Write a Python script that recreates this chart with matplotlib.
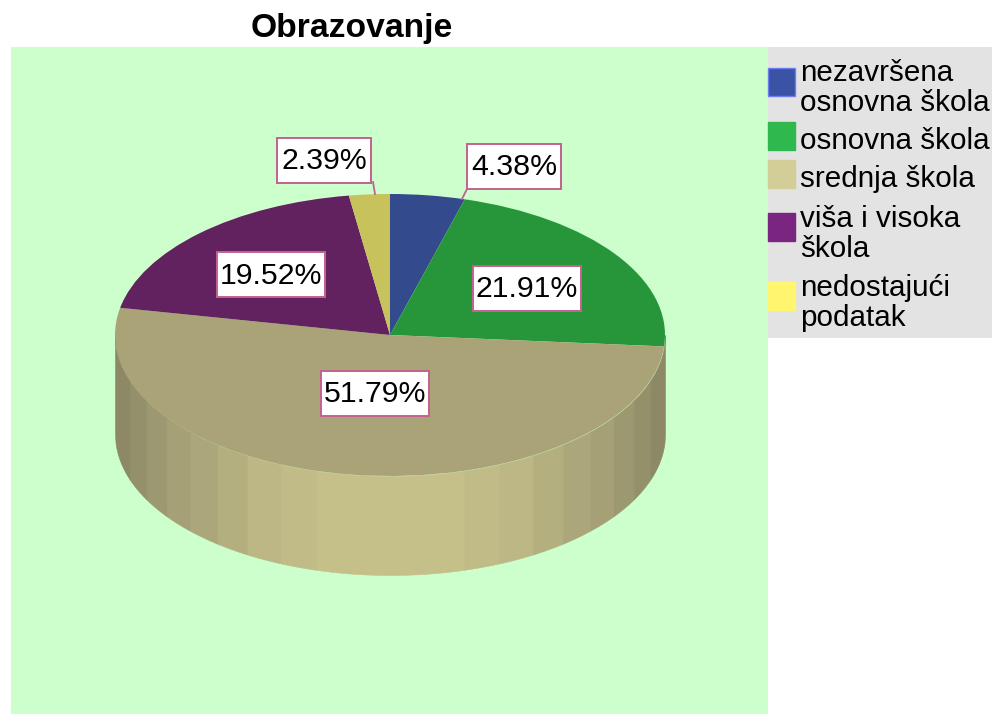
import numpy as np
import matplotlib
matplotlib.use("Agg")
import matplotlib.pyplot as plt
from matplotlib.patches import Rectangle
from matplotlib.lines import Line2D

plt.rcParams['font.family'] = ['Liberation Sans', 'DejaVu Sans']

# podaci
kategorije = ["nezavršena\nosnovna škola", "osnovna škola", "srednja škola",
              "viša i visoka\nškola", "nedostajući\npodatak"]
udjeli = [4.38, 21.91, 51.79, 19.52, 2.39]
natpisi = ["4.38%", "21.91%", "51.79%", "19.52%", "2.39%"]

boje_pite = ["#334A8C", "#27963B", "#A9A377", "#62215F", "#C8C25C"]
boje_legende = ["#3A53A4", "#2EB84D", "#D3CE97", "#7A2580", "#FFF56E"]

# sjencanje ruba pite, od sredine prema van
rub_x = [0.0, 0.271, 0.397, 0.52, 0.628, 0.728, 0.813, 0.886, 0.946, 1.0]
rub_boje = ["#C5C08A", "#C1BC87", "#BCB784", "#B4AF7F", "#ACA77A",
            "#A5A075", "#9C9870", "#94906A", "#8D8966"]

W, H = 992, 715
fig = plt.figure(figsize=(W / 100, H / 100), dpi=100, facecolor="white")


def fx(x):
    return x / W


def fy(y):
    return 1 - y / H


# pozadina i legenda
fig.add_artist(Rectangle((fx(11), fy(714)), 757 / W, 667 / H, transform=fig.transFigure,
                         facecolor="#CCFFCC", edgecolor="none", zorder=-2))
fig.add_artist(Rectangle((fx(768), fy(338)), 224 / W, 291 / H, transform=fig.transFigure,
                         facecolor="#E3E3E3", edgecolor="none", zorder=-2))

fig.text(fx(352), fy(29), "Obrazovanje", fontsize=24.2, fontweight="bold",
         ha="center", va="center", color="black")

# pita: elipsa 550 x 282 px, visina ruba 99 px
ax = fig.add_axes([fx(115), fy(575), 550 / W, 381 / H])
ax.patch.set_alpha(0)
dubina = 99 / 141

for i in range(len(rub_boje)):
    for znak in (-1, 1):
        xs = znak * np.linspace(rub_x[i], rub_x[i + 1], 30)
        gore = -np.sqrt(np.clip(1 - xs ** 2, 0, 1))
        ax.fill_between(xs, gore, gore - dubina, facecolor=rub_boje[i],
                        edgecolor=rub_boje[i], linewidth=0.4)

# sredina pite je na y=0, zato ylim ide od -1-dubina do 1
ax.pie(udjeli, colors=boje_pite, startangle=90, counterclock=False, radius=1,
       wedgeprops={"linewidth": 0})
ax.set_aspect("auto")
ax.set_xlim(-1, 1)
ax.set_ylim(-1 - dubina, 1)
ax.axis("off")

# vodeci crti do natpisa
for (x1, y1, x2, y2) in [(462, 199, 467, 189), (375, 194, 373, 182)]:
    fig.add_artist(Line2D([fx(x1), fx(x2)], [fy(y1), fy(y2)], transform=fig.transFigure,
                          color="#C2628F", linewidth=1.3, zorder=4))

# natpisi s postocima
pozicije = [(514, 166), (527, 288), (375, 393), (271, 275), (324, 160)]
for txt, (x, y) in zip(natpisi, pozicije):
    sirina = 94 if len(txt) == 5 else 108
    fig.add_artist(Rectangle((fx(x - sirina / 2), fy(y + 22.5)), sirina / W, 45 / H,
                             transform=fig.transFigure, facecolor="white",
                             edgecolor="#C2628F", linewidth=1.4, zorder=5))
    fig.text(fx(x), fy(y + 1), txt, fontsize=21.8, ha="center", va="center",
             color="black", zorder=6)

# legenda
kvadrati = [82, 136, 174, 227, 296]
tekst_y = [88, 141, 179, 234, 303]
for kat, boja, yk, yt in zip(kategorije, boje_legende, kvadrati, tekst_y):
    rub = "#6E7DF0" if boja == "#3A53A4" else boja
    fig.add_artist(Rectangle((fx(768), fy(yk + 14)), 27 / W, 28 / H, transform=fig.transFigure,
                             facecolor=boja, edgecolor=rub, linewidth=1))
    fig.text(fx(800), fy(yt), kat, fontsize=21.3, ha="left", va="center",
             color="black", linespacing=1.05)

fig.savefig("out.png", dpi=100)
